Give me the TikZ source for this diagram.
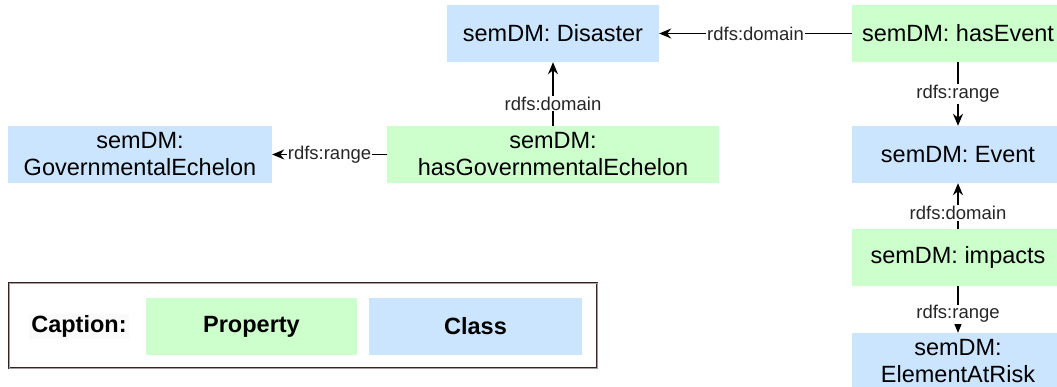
\documentclass[tikz,border=0pt]{standalone}
\usepackage{fontspec}
\setmainfont{Liberation Sans}
\usetikzlibrary{arrows.meta}
\definecolor{propgreen}{HTML}{CCFFCC}
\definecolor{classblue}{HTML}{CCE5FF}
\definecolor{framebrown}{HTML}{362424}

\begin{document}
\begin{tikzpicture}[x=1pt,y=-1pt,
	box/.style={minimum height=57pt, inner sep=0pt, align=center, font=\fontsize{23.5}{27}\selectfont},
	prop/.style={box, fill=propgreen},
	cls/.style={box, fill=classblue},
	rel/.style={line width=1.5pt, -{Stealth[length=12pt,width=10pt]}},
	lbl/.style={fill=white, inner sep=1pt, text=black!85, font=\fontsize{18.5}{20}\selectfont},
	key/.style={font=\fontsize{23.5}{27}\selectfont\bfseries}]
	\clip (0,0) rectangle (1057,387);

	% classes and properties
	\node[cls, minimum width=212pt] (disaster) at (553,33.5) {semDM: Disaster};
	\node[prop, minimum width=212pt] (hasevent) at (958,33.5) {semDM: hasEvent};
	\node[prop, minimum width=332pt] (hasgov) at (553,154.5) {semDM:\\hasGovernmentalEchelon};
	\node[cls, minimum width=264pt] (govech) at (140,154.5) {semDM:\\GovernmentalEchelon};
	\node[cls, minimum width=212pt] (event) at (958,154.5) {semDM: Event};
	\node[prop, minimum width=212pt] (impacts) at (958,257.5) {semDM: impacts};
	\node[cls, minimum width=212pt] (risk) at (958,361.5) {semDM:\\ElementAtRisk};

	\draw[rel] (hasevent) -- node[lbl] {rdfs:domain} (disaster);
	\draw[rel] (hasgov) -- node[lbl, pos=.35] {rdfs:domain} (disaster);
	\draw[rel] (hasgov) -- node[lbl] {rdfs:range} (govech);
	\draw[rel] (hasevent) -- node[lbl] {rdfs:range} (event);
	\draw[rel] (impacts) -- node[lbl, pos=.35] {rdfs:domain} (event);
	\draw[rel] (impacts) -- node[lbl, pos=.6] {rdfs:range} (risk);

	% caption
	\node[draw=framebrown, line width=1.1pt, double=framebrown!45, double distance=.7pt,
		minimum width=588pt, minimum height=85pt] (legend) at (303,325.5) {};
	\node[key, fill=gray!4, inner sep=2pt] (caplabel) at (79,326.5) {Caption:};
	\node[prop, key, minimum width=211pt] (propkey) at (251.5,326.5) {Property};
	\node[cls, key, minimum width=213pt] (classkey) at (475.5,326.5) {Class};
\end{tikzpicture}
\end{document}
